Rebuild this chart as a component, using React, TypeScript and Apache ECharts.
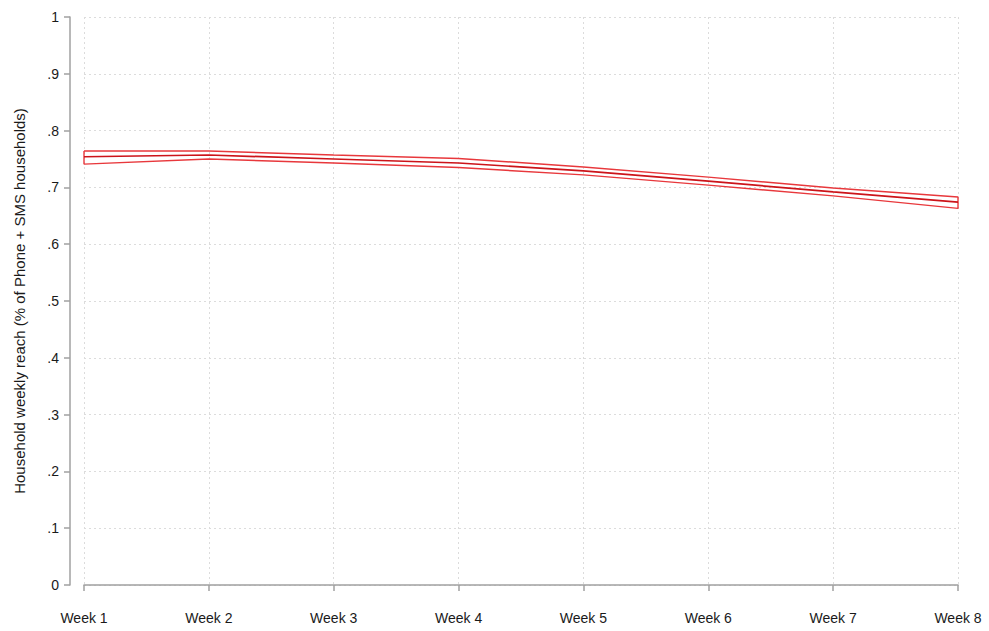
import React, { useEffect, useRef } from "react";
import * as echarts from "echarts";

const weeks = [1, 2, 3, 4, 5, 6, 7, 8];
const meanValues = [0.754, 0.757, 0.75, 0.743, 0.729, 0.711, 0.692, 0.674];
const upperValues = [0.764, 0.764, 0.757, 0.751, 0.736, 0.718, 0.699, 0.683];
const lowerValues = [0.741, 0.75, 0.743, 0.735, 0.722, 0.704, 0.685, 0.663];
const yTicks = [0, 0.1, 0.2, 0.3, 0.4, 0.5, 0.6, 0.7, 0.8, 0.9, 1];

export default function App() {
  const ref = useRef<HTMLDivElement>(null);
  useEffect(() => {
    const chart = echarts.init(ref.current!, null, { renderer: "svg" });
    const band: number[][] = [];
    weeks.forEach((w, i) => band.push([w, upperValues[i]]));
    for (let i = weeks.length - 1; i >= 0; i--) band.push([weeks[i], lowerValues[i]]);
    band.push([weeks[0], upperValues[0]]);
    const font = "'Liberation Sans', Arial, Helvetica, sans-serif";
    chart.setOption({
      animation: false,
      backgroundColor: "#ffffff",
      grid: { left: 84, right: 31, top: 17, bottom: 46 },
      xAxis: {
        type: "value",
        min: 1,
        max: 8,
        interval: 1,
        offset: 13,
        axisLine: { show: true, lineStyle: { color: "#a0a0a0", width: 1.5 } },
        axisTick: { show: true, length: 6, lineStyle: { color: "#a0a0a0", width: 1.5 } },
        axisLabel: {
          color: "#1a1a1a",
          fontFamily: font,
          fontSize: 14,
          margin: 13,
          formatter: (v: number) => "Week " + v,
        },
        splitLine: { show: true, lineStyle: { color: "#dcdcdc", type: [2, 3], width: 1 } },
      },
      yAxis: {
        type: "value",
        min: 0,
        max: 1,
        interval: 0.1,
        offset: 14,
        name: "Household weekly reach (% of Phone + SMS households)",
        nameLocation: "middle",
        nameGap: 43,
        nameTextStyle: { color: "#1a1a1a", fontFamily: font, fontSize: 15 },
        axisLine: { show: true, lineStyle: { color: "#a0a0a0", width: 1.5 } },
        axisTick: { show: true, length: 6, lineStyle: { color: "#a0a0a0", width: 1.5 } },
        axisLabel: {
          color: "#1a1a1a",
          fontFamily: font,
          fontSize: 14,
          margin: 11,
          formatter: (v: number) => {
            const t = yTicks.find((x) => Math.abs(x - v) < 1e-6);
            const n = t === undefined ? v : t;
            if (n === 0) return "0";
            if (Math.abs(n - 1) < 1e-6) return "1";
            return "." + Math.round(n * 10);
          },
        },
        splitLine: { show: true, lineStyle: { color: "#dcdcdc", type: [2, 3], width: 1 } },
      },
      series: [
        {
          type: "line",
          name: "CI",
          data: band,
          symbol: "none",
          lineStyle: { color: "#e8383c", width: 1.4 },
          z: 2,
        },
        {
          type: "line",
          name: "Mean",
          data: weeks.map((w, i) => [w, meanValues[i]]),
          symbol: "none",
          lineStyle: { color: "#cc141a", width: 1.7 },
          z: 3,
        },
      ],
    });
    return () => chart.dispose();
  }, []);
  return <div ref={ref} style={{ width: 989, height: 631, position: "absolute", left: 0, top: 0 }} />;
}
